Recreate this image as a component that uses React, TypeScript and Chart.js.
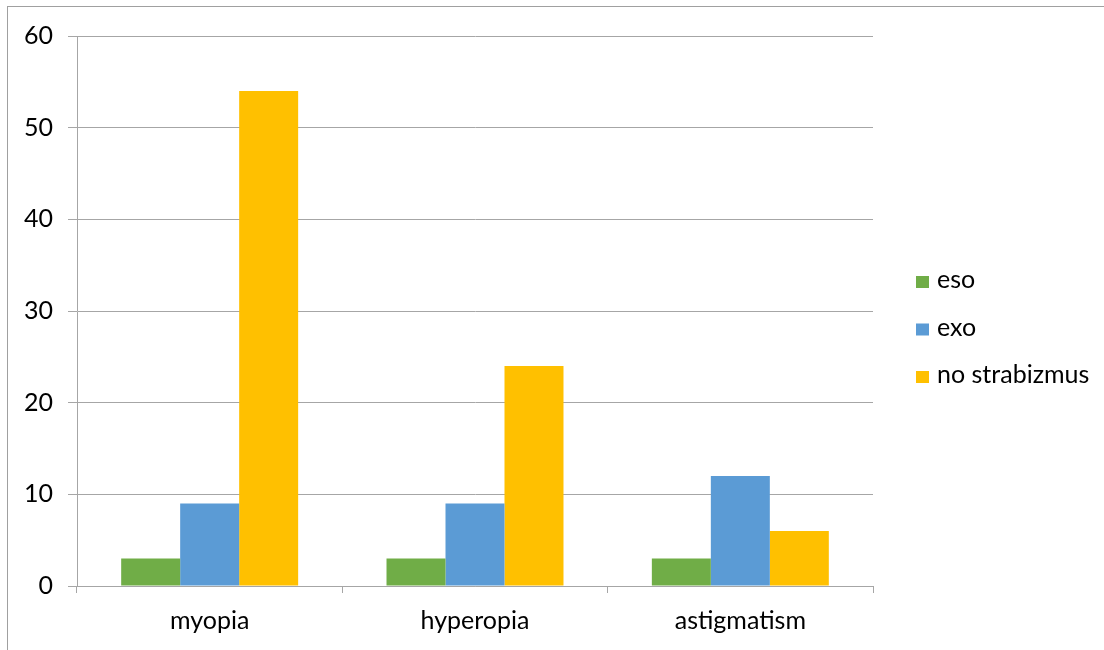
import { useEffect, useRef } from "react";
import { Chart, registerables } from "chart.js";

Chart.register(...registerables);

const categories = ["myopia", "hyperopia", "astigmatism"];
const esoValues = [3, 3, 3];
const exoValues = [9, 9, 12];
const noStrabizmusValues = [54, 24, 6];
const seriesNames = ["eso", "exo", "no strabizmus"];
const seriesColors = ["#70AD47", "#5B9BD5", "#FFC000"];
const yMin = 0;
const yMax = 60;
const yStep = 10;

const FONT_FAMILY = "Lato, 'Open Sans', sans-serif";
const FONT_SIZE = 25;
const AXIS_GRAY = "#a6a6a6";

// Legend drawn as a column of square swatches to the right of the plot
const sideLegend = {
  id: "sideLegend",
  afterDraw(chart: Chart) {
    const ctx = chart.ctx;
    const left = chart.chartArea.right + 43;
    const rowGap = 47.5;
    const firstBaseline = 288;
    ctx.save();
    ctx.font = `${FONT_SIZE}px ${FONT_FAMILY}`;
    ctx.textAlign = "left";
    ctx.textBaseline = "alphabetic";
    chart.data.datasets.forEach((ds, i) => {
      const base = firstBaseline + i * rowGap;
      ctx.fillStyle = ds.backgroundColor as string;
      ctx.fillRect(left, base - 12, 13, 12);
      ctx.fillStyle = "#000000";
      ctx.fillText(ds.label as string, left + 21, base);
    });
    ctx.restore();
  },
};

export default function App() {
  const canvasRef = useRef<HTMLCanvasElement | null>(null);

  useEffect(() => {
    if (!canvasRef.current) return;
    const seriesValues = [esoValues, exoValues, noStrabizmusValues];
    const chart = new Chart(canvasRef.current, {
      type: "bar",
      data: {
        labels: categories,
        datasets: seriesNames.map((name, i) => ({
          label: name,
          data: seriesValues[i],
          backgroundColor: seriesColors[i],
          borderWidth: 0,
          barPercentage: 1,
          categoryPercentage: 0.667,
        })),
      },
      options: {
        animation: false,
        responsive: false,
        maintainAspectRatio: false,
        layout: { padding: { left: 0, top: 36, right: 231, bottom: 0 } },
        plugins: {
          legend: { display: false },
          tooltip: { enabled: false },
        },
        scales: {
          x: {
            offset: true,
            grid: {
              offset: true,
              drawOnChartArea: false,
              drawTicks: true,
              tickLength: 7,
              color: AXIS_GRAY,
            },
            border: { display: true, color: AXIS_GRAY },
            ticks: {
              color: "#000000",
              padding: 13,
              font: { family: FONT_FAMILY, size: FONT_SIZE },
            },
            afterFit(scale) {
              scale.height = 64;
            },
          },
          y: {
            min: yMin,
            max: yMax,
            grid: {
              color: AXIS_GRAY,
              drawTicks: true,
              tickLength: 9,
            },
            border: { display: true, color: AXIS_GRAY },
            ticks: {
              stepSize: yStep,
              color: "#000000",
              padding: 15,
              font: { family: FONT_FAMILY, size: FONT_SIZE },
            },
            afterFit(scale) {
              scale.width = 77;
            },
          },
        },
      },
      plugins: [sideLegend],
    });
    return () => chart.destroy();
  }, []);

  return (
    <div
      style={{
        position: "fixed",
        left: 0,
        top: 0,
        width: 1104,
        height: 650,
        overflow: "hidden",
        background: "#ffffff",
      }}
    >
      <div
        style={{
          position: "absolute",
          left: 7,
          top: 6,
          width: 1120,
          height: 670,
          border: "1px solid #a0a0a0",
          boxSizing: "border-box",
        }}
      />
      <canvas
        ref={canvasRef}
        width={1104}
        height={650}
        style={{ position: "absolute", left: 0, top: 0, width: 1104, height: 650 }}
      />
    </div>
  );
}
